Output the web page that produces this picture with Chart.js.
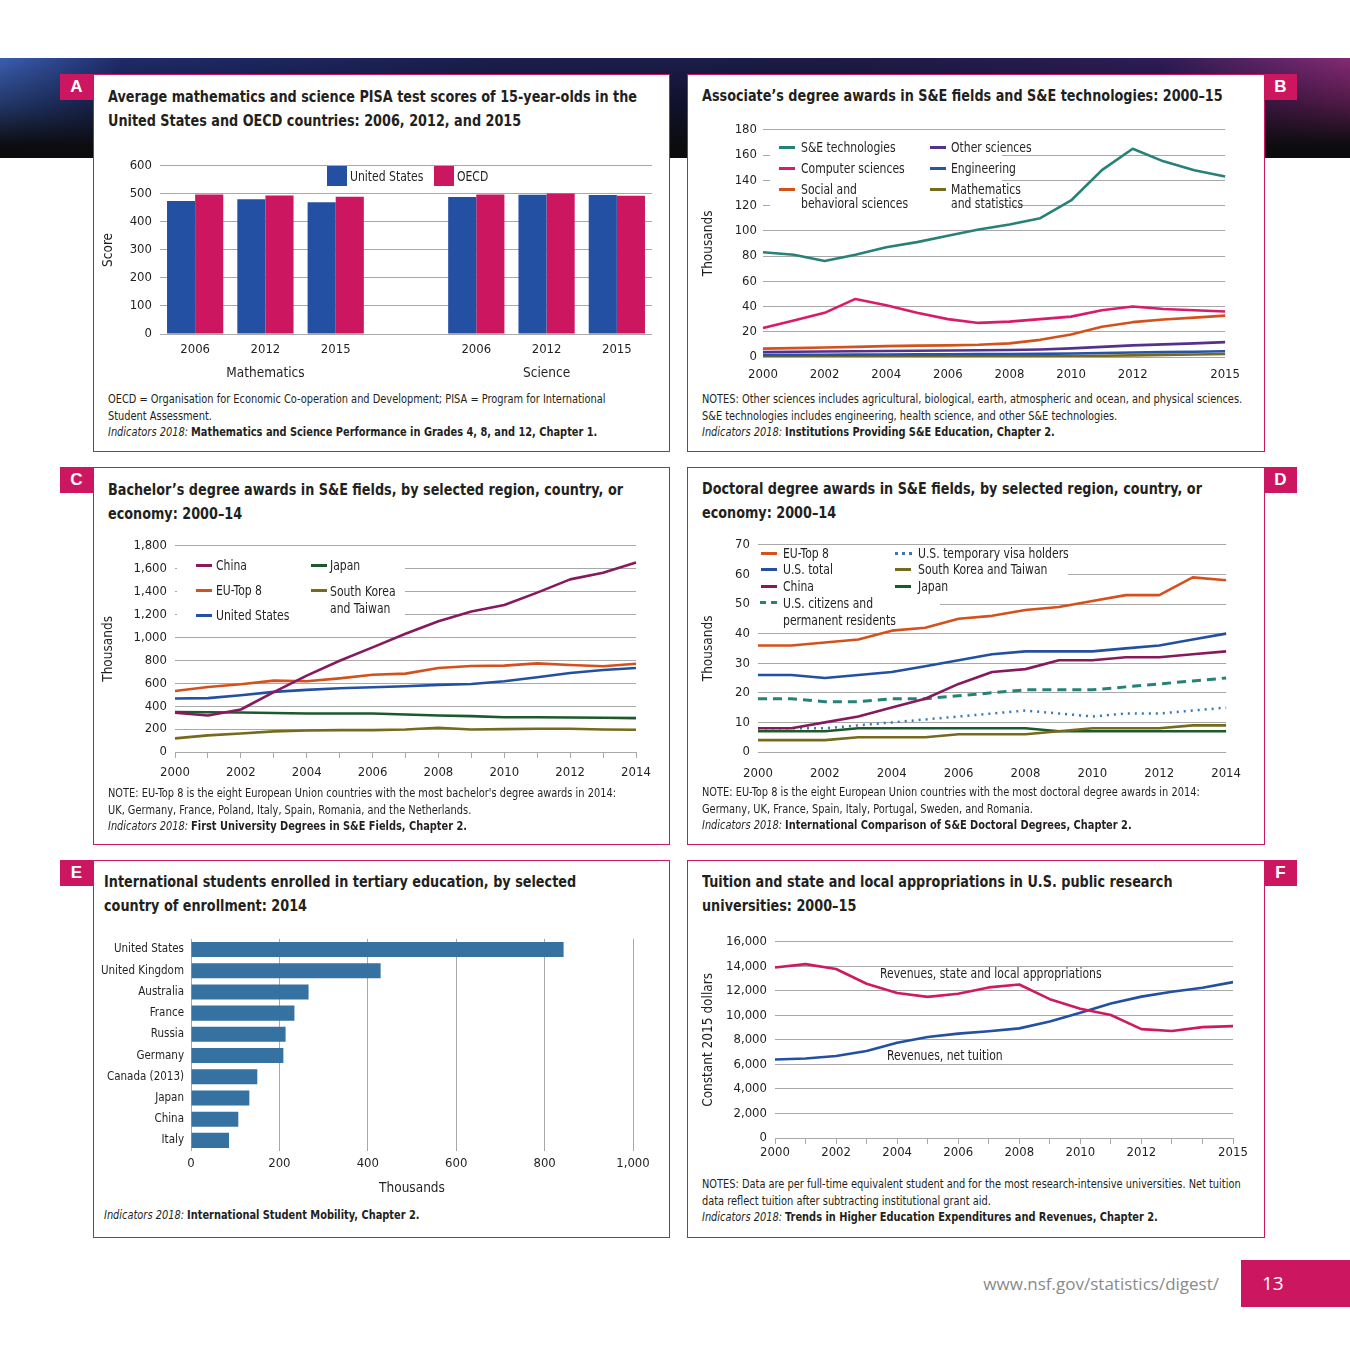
<!DOCTYPE html>
<html>
<head>
<meta charset="utf-8">
<title>Science and Engineering Indicators digest - page 13</title>
<script src="https://cdn.jsdelivr.net/npm/chart.js@4.4.1/dist/chart.umd.min.js"></script>
<style>
  html, body { margin: 0; padding: 0; background: #fff; }
  #page {
    position: relative; width: 1350px; height: 1350px; overflow: hidden;
    font-family: 'Liberation Sans Narrow', 'DejaVu Sans Condensed', sans-serif;
    color: #231f20;
  }
  .band {
    position: absolute; left: 0; top: 58px; width: 1350px; height: 100px;
    background:
      linear-gradient(180deg, rgba(0,0,0,0) 0%, rgba(0,0,0,0.4) 45%, #0c0c0f 88%),
      linear-gradient(90deg, #3a5eb0 0%, #1f2b6a 9%, #1b1f50 35%, #1c1b47 62%, #2e1c57 86%, #852a74 100%);
  }
  .panel { position: absolute; background: #fff; border: 1px solid #cc1760; box-sizing: border-box; }
  .tab {
    position: absolute; width: 33px; height: 26px; background: #cc1760; color: #fff;
    font: bold 17px 'Liberation Sans', Arial, sans-serif; text-align: center; line-height: 26px;
  }
  .title { position: absolute; font-weight: bold; font-size: 16px; line-height: 24px; white-space: nowrap;
    transform: scaleX(0.89); transform-origin: 0 0; }
  .note { position: absolute; font-size: 12px; line-height: 16.5px; white-space: nowrap;
    transform: scaleX(0.91); transform-origin: 0 0; }
  .note b { font-weight: bold; }
  canvas { position: absolute; }
  .lg { position: absolute; font-size: 14px; line-height: 14px; white-space: nowrap;
    transform: scaleX(0.86); transform-origin: 0 0; }
  .sw { position: absolute; width: 16px; height: 3px; }
  .swd { position: absolute; width: 17px; height: 0; }
  .sq { position: absolute; width: 20px; height: 20px; }
  .ann { position: absolute; font-size: 14px; line-height: 14px; white-space: nowrap;
    transform: scaleX(0.86); transform-origin: 0 0; }
  .url { position: absolute; right: 131px; top: 1272px; font: 17px 'Open Sans', sans-serif; color: #8a8a8a; }
  .pageno { position: absolute; left: 1241px; top: 1260px; width: 109px; height: 47px; background: #cc1760;
    color: #fff; font: 19px 'Open Sans', sans-serif; line-height: 47px; text-indent: 21px; }
</style>
</head>
<body>
<div id="page">
  <div class="band"></div>

  <!-- panel frames -->
  <div class="panel" style="left:93px;top:74px;width:577px;height:378px"></div>
  <div class="panel" style="left:687px;top:74px;width:578px;height:378px"></div>
  <div class="panel" style="left:93px;top:467px;width:577px;height:378px"></div>
  <div class="panel" style="left:687px;top:467px;width:578px;height:378px"></div>
  <div class="panel" style="left:93px;top:860px;width:577px;height:378px"></div>
  <div class="panel" style="left:687px;top:860px;width:578px;height:378px"></div>

  <div class="tab" style="left:60px;top:74px">A</div>
  <div class="tab" style="left:1264px;top:74px">B</div>
  <div class="tab" style="left:60px;top:467px">C</div>
  <div class="tab" style="left:1264px;top:467px">D</div>
  <div class="tab" style="left:60px;top:860px">E</div>
  <div class="tab" style="left:1264px;top:860px">F</div>

  <!-- titles -->
  <div class="title" style="left:108px;top:85px">Average mathematics and science PISA test scores of 15-year-olds in the<br>United States and OECD countries: 2006, 2012, and 2015</div>
  <div class="title" style="left:702px;top:84px">Associate’s degree awards in S&amp;E fields and S&amp;E technologies: 2000–15</div>
  <div class="title" style="left:108px;top:478px">Bachelor’s degree awards in S&amp;E fields, by selected region, country, or<br>economy: 2000–14</div>
  <div class="title" style="left:702px;top:477px">Doctoral degree awards in S&amp;E fields, by selected region, country, or<br>economy: 2000–14</div>
  <div class="title" style="left:104px;top:870px">International students enrolled in tertiary education, by selected<br>country of enrollment: 2014</div>
  <div class="title" style="left:702px;top:870px">Tuition and state and local appropriations in U.S. public research<br>universities: 2000–15</div>

  <!-- charts -->
  <canvas id="chartA" width="560" height="240" style="left:100px;top:150px"></canvas>
  <canvas id="chartB" width="550" height="271" style="left:700px;top:116px"></canvas>
  <canvas id="chartC" width="560" height="257" style="left:100px;top:530px"></canvas>
  <canvas id="chartD" width="555" height="257" style="left:700px;top:529px"></canvas>
  <canvas id="chartE" width="570" height="272" style="left:90px;top:925px"></canvas>
  <canvas id="chartF" width="555" height="240" style="left:700px;top:926px"></canvas>

  <!-- legend A -->
  <div class="sq" style="left:327px;top:166px;background:#2350a3"></div>
  <div class="lg" style="left:350px;top:169px">United States</div>
  <div class="sq" style="left:434px;top:166px;background:#cc1760"></div>
  <div class="lg" style="left:457px;top:169px">OECD</div>

  <!-- legend B -->
  <div class="sw" style="left:779px;top:146px;background:#268277"></div>
  <div class="lg" style="left:801px;top:140px">S&amp;E technologies</div>
  <div class="sw" style="left:779px;top:167px;background:#d81b6a"></div>
  <div class="lg" style="left:801px;top:161px">Computer sciences</div>
  <div class="sw" style="left:779px;top:188px;background:#d4511c"></div>
  <div class="lg" style="left:801px;top:182px">Social and<br>behavioral sciences</div>
  <div class="sw" style="left:930px;top:146px;background:#55308f"></div>
  <div class="lg" style="left:951px;top:140px">Other sciences</div>
  <div class="sw" style="left:930px;top:167px;background:#2654a8"></div>
  <div class="lg" style="left:951px;top:161px">Engineering</div>
  <div class="sw" style="left:930px;top:188px;background:#786a1c"></div>
  <div class="lg" style="left:951px;top:182px">Mathematics<br>and statistics</div>

  <!-- legend C -->
  <div class="sw" style="left:196px;top:564px;background:#861a5c"></div>
  <div class="lg" style="left:216px;top:558px">China</div>
  <div class="sw" style="left:196px;top:589px;background:#d4511c"></div>
  <div class="lg" style="left:216px;top:583px">EU-Top 8</div>
  <div class="sw" style="left:196px;top:614px;background:#2350a3"></div>
  <div class="lg" style="left:216px;top:608px">United States</div>
  <div class="sw" style="left:311px;top:564px;background:#1d5a2b"></div>
  <div class="lg" style="left:330px;top:558px">Japan</div>
  <div class="sw" style="left:311px;top:589px;background:#786a1c"></div>
  <div class="lg" style="left:330px;top:583px;line-height:17px">South Korea<br>and Taiwan</div>

  <!-- legend D -->
  <div class="sw" style="left:761px;top:552px;background:#d4511c"></div>
  <div class="lg" style="left:783px;top:546px">EU-Top 8</div>
  <div class="sw" style="left:761px;top:568px;background:#2350a3"></div>
  <div class="lg" style="left:783px;top:562px">U.S. total</div>
  <div class="sw" style="left:761px;top:585px;background:#861a5c"></div>
  <div class="lg" style="left:783px;top:579px">China</div>
  <div class="swd" style="left:760px;top:601px;border-top:3px dashed #268277"></div>
  <div class="lg" style="left:783px;top:595px;line-height:17px">U.S. citizens and<br>permanent residents</div>
  <div class="swd" style="left:895px;top:552px;border-top:3px dotted #3a78b5"></div>
  <div class="lg" style="left:918px;top:546px">U.S. temporary visa holders</div>
  <div class="sw" style="left:895px;top:568px;background:#786a1c"></div>
  <div class="lg" style="left:918px;top:562px">South Korea and Taiwan</div>
  <div class="sw" style="left:895px;top:585px;background:#1d5a2b"></div>
  <div class="lg" style="left:918px;top:579px">Japan</div>

  <!-- annotations F -->
  <div class="ann" style="left:880px;top:966px">Revenues, state and local appropriations</div>
  <div class="ann" style="left:887px;top:1048px">Revenues, net tuition</div>

  <!-- notes -->
  <div class="note" style="left:108px;top:391px">OECD = Organisation for Economic Co-operation and Development; PISA = Program for International<br>Student Assessment.<br><i>Indicators 2018:</i> <b>Mathematics and Science Performance in Grades 4, 8, and 12, Chapter 1.</b></div>
  <div class="note" style="left:702px;top:391px">NOTES: Other sciences includes agricultural, biological, earth, atmospheric and ocean, and physical sciences.<br>S&amp;E technologies includes engineering, health science, and other S&amp;E technologies.<br><i>Indicators 2018:</i> <b>Institutions Providing S&amp;E Education, Chapter 2.</b></div>
  <div class="note" style="left:108px;top:785px">NOTE: EU-Top 8 is the eight European Union countries with the most bachelor's degree awards in 2014:<br>UK, Germany, France, Poland, Italy, Spain, Romania, and the Netherlands.<br><i>Indicators 2018:</i> <b>First University Degrees in S&amp;E Fields, Chapter 2.</b></div>
  <div class="note" style="left:702px;top:784px">NOTE: EU-Top 8 is the eight European Union countries with the most doctoral degree awards in 2014:<br>Germany, UK, France, Spain, Italy, Portugal, Sweden, and Romania.<br><i>Indicators 2018:</i> <b>International Comparison of S&amp;E Doctoral Degrees, Chapter 2.</b></div>
  <div class="note" style="left:104px;top:1207px"><i>Indicators 2018:</i> <b>International Student Mobility, Chapter 2.</b></div>
  <div class="note" style="left:702px;top:1176px">NOTES: Data are per full-time equivalent student and for the most research-intensive universities. Net tuition<br>data reflect tuition after subtracting institutional grant aid.<br><i>Indicators 2018:</i> <b>Trends in Higher Education Expenditures and Revenues, Chapter 2.</b></div>

  <div class="url">www.nsf.gov/statistics/digest/</div>
  <div class="pageno">13</div>
</div>

<script>
// ---- A: PISA scores
var pisaLabels = ['2006', '2012', '2015', '', '2006', '2012', '2015'];
var pisaGroups = ['Mathematics', 'Science'];
var pisaGroupAt = [1, 5];
var pisaUS = [474, 481, 470, null, 489, 497, 496];
var pisaOECD = [498, 494, 490, null, 498, 501, 493];

// ---- B: associate's degrees (thousands)
var assocYears = ['2000','2001','2002','2003','2004','2005','2006','2007','2008','2009','2010','2011','2012','2013','2014','2015'];
var assocTickYears = ['2000','2002','2004','2006','2008','2010','2012','2015'];
var assocTech = [83, 81, 76, 81, 87, 91, 96, 101, 105, 110, 124, 148, 165, 155, 148, 143];
var assocCS = [23, 29, 35, 46, 41, 35, 30, 27, 28, 30, 32, 37, 40, 38, 37, 36];
var assocSocial = [6.6, 7, 7.5, 8, 8.6, 9, 9.2, 9.7, 10.8, 13.6, 17.8, 24, 27.6, 29.7, 31.2, 32.8];
var assocOther = [3.9, 4.1, 4.3, 4.5, 4.7, 4.9, 5.1, 5.3, 5.5, 6, 6.8, 8, 9.2, 10, 10.8, 11.8];
var assocEng = [1.6, 1.7, 1.8, 1.9, 2, 2.1, 2.2, 2.3, 2.4, 2.5, 2.8, 3.2, 3.6, 3.9, 4.2, 4.6];
var assocMath = [0.4, 0.4, 0.4, 0.4, 0.5, 0.5, 0.5, 0.5, 0.5, 0.6, 0.8, 1, 1.3, 1.7, 2, 2.4];

// ---- C: bachelor's degrees (thousands)
var bachYears = ['2000','2001','2002','2003','2004','2005','2006','2007','2008','2009','2010','2011','2012','2013','2014'];
var bachChina = [342, 319, 371, 522, 667, 797, 913, 1032, 1142, 1226, 1284, 1391, 1507, 1565, 1655];
var bachEU = [533, 568, 591, 623, 617, 643, 675, 684, 733, 751, 754, 774, 759, 748, 771];
var bachUS = [467, 470, 496, 525, 542, 557, 565, 574, 586, 594, 617, 652, 690, 716, 733];
var bachJapan = [348, 347, 345, 340, 336, 336, 336, 328, 319, 313, 304, 304, 301, 299, 296];
var bachKorTw = [119, 145, 162, 180, 188, 191, 191, 197, 212, 197, 200, 203, 203, 197, 194];

// ---- D: doctoral degrees (thousands)
var docYears = ['2000','2001','2002','2003','2004','2005','2006','2007','2008','2009','2010','2011','2012','2013','2014'];
var docEU = [36, 36, 37, 38, 41, 42, 45, 46, 48, 49, 51, 53, 53, 59, 58];
var docUSTotal = [26, 26, 25, 26, 27, 29, 31, 33, 34, 34, 34, 35, 36, 38, 40];
var docChina = [8, 8, 10, 12, 15, 18, 23, 27, 28, 31, 31, 32, 32, 33, 34];
var docCitizens = [18, 18, 17, 17, 18, 18, 19, 20, 21, 21, 21, 22, 23, 24, 25];
var docTempVisa = [8, 8, 8, 9, 10, 11, 12, 13, 14, 13, 12, 13, 13, 14, 15];
var docKorTw = [4, 4, 4, 5, 5, 5, 6, 6, 6, 7, 8, 8, 8, 9, 9];
var docJapan = [7, 7, 7, 8, 8, 8, 8, 8, 8, 7, 7, 7, 7, 7, 7];

// ---- E: international students (thousands)
var intlCountries = ['United States', 'United Kingdom', 'Australia', 'France', 'Russia', 'Germany', 'Canada (2013)', 'Japan', 'China', 'Italy'];
var intlStudents = [843, 429, 266, 234, 214, 209, 150, 132, 107, 86];

// ---- F: public research universities (constant 2015 dollars)
var fundYears = ['2000','2001','2002','2003','2004','2005','2006','2007','2008','2009','2010','2011','2012','2013','2014','2015'];
var fundTickYears = ['2000','2002','2004','2006','2008','2010','2012','2015'];
var fundState = [13900, 14180, 13780, 12580, 11830, 11510, 11770, 12280, 12520, 11320, 10540, 10030, 8880, 8720, 9040, 9120];
var fundTuition = [6400, 6480, 6690, 7090, 7760, 8240, 8510, 8700, 8940, 9500, 10220, 10970, 11530, 11930, 12250, 12710];

var FONT = "'Liberation Sans Narrow', 'DejaVu Sans Condensed', sans-serif";
var GRID = '#a8a8a8';
Chart.defaults.font.family = FONT;
Chart.defaults.font.size = 13;
Chart.defaults.color = '#231f20';
Chart.defaults.animation = false;
Chart.defaults.responsive = false;
Chart.defaults.plugins.legend.display = false;
Chart.defaults.plugins.tooltip.enabled = false;
Chart.defaults.elements.point.radius = 0;
Chart.defaults.elements.line.borderWidth = 2.6;
Chart.defaults.elements.line.borderJoinStyle = 'round';

function comma(v) { return Number(v).toLocaleString('en-US'); }

// white patches behind the legends: hide gridlines, keep the data lines on top
var legendMask = {
  id: 'legendMask',
  beforeDatasetsDraw: function (chart, args, opts) {
    var ctx = chart.ctx;
    ctx.save();
    ctx.fillStyle = '#fff';
    (opts.rects || []).forEach(function (r) { ctx.fillRect(r[0], r[1], r[2], r[3]); });
    ctx.restore();
  }
};

function yScale(min, max, step, width, title, pad, fmt) {
  return {
    min: min, max: max,
    ticks: { stepSize: step, padding: pad, callback: fmt || function (v) { return v; } },
    grid: { color: GRID, lineWidth: 1, drawTicks: false },
    border: { display: false },
    title: { display: !!title, text: title, font: { size: 13.5 }, padding: { top: 0, bottom: 0 } },
    afterFit: function (s) { s.width = width; }
  };
}

function xYears(labels, show, height, pad, ticks) {
  return {
    ticks: {
      autoSkip: false, maxRotation: 0, padding: pad,
      callback: function (v, i) { return show.indexOf(labels[i]) >= 0 ? labels[i] : ''; }
    },
    grid: { display: ticks, drawOnChartArea: false, drawTicks: ticks, tickLength: 6, color: GRID },
    border: { display: false },
    afterFit: function (s) { s.height = height; }
  };
}

function line(label, data, color, extra) {
  var d = { label: label, data: data, borderColor: color, backgroundColor: color, fill: false, tension: 0 };
  for (var k in extra) d[k] = extra[k];
  return d;
}

function evenYears(labels) {
  return labels.filter(function (y) { return Number(y) % 2 === 0; });
}

// A
var groupLabels = {
  id: 'groupLabels',
  afterDraw: function (chart) {
    var ctx = chart.ctx, x = chart.scales.x;
    ctx.save();
    ctx.font = '13.5px ' + FONT;
    ctx.fillStyle = '#231f20';
    ctx.textAlign = 'center';
    ctx.textBaseline = 'middle';
    pisaGroups.forEach(function (g, i) {
      ctx.fillText(g, x.getPixelForValue(pisaGroupAt[i]), chart.chartArea.bottom + 39);
    });
    ctx.restore();
  }
};

new Chart(document.getElementById('chartA'), {
  type: 'bar',
  data: {
    labels: pisaLabels,
    datasets: [
      { label: 'United States', data: pisaUS, backgroundColor: '#2350a3' },
      { label: 'OECD', data: pisaOECD, backgroundColor: '#cc1760' }
    ]
  },
  options: {
    layout: { padding: { top: 12, right: 8, left: 0, bottom: 0 } },
    datasets: { bar: { categoryPercentage: 0.8, barPercentage: 1.0 } },
    scales: {
      x: {
        ticks: { padding: 8, autoSkip: false, maxRotation: 0 },
        grid: { display: false, drawTicks: false }, border: { display: false },
        afterFit: function (s) { s.height = 56; }
      },
      y: yScale(0, 600, 100, 60, 'Score', 8)
    }
  },
  plugins: [groupLabels]
});

// B
new Chart(document.getElementById('chartB'), {
  type: 'line',
  data: {
    labels: assocYears,
    datasets: [
      line('S&E technologies', assocTech, '#268277'),
      line('Computer sciences', assocCS, '#d81b6a'),
      line('Social and behavioral sciences', assocSocial, '#d4511c'),
      line('Other sciences', assocOther, '#55308f'),
      line('Engineering', assocEng, '#2654a8'),
      line('Mathematics and statistics', assocMath, '#786a1c')
    ]
  },
  options: {
    layout: { padding: { top: 12, right: 22, left: 0, bottom: 0 } },
    plugins: { legendMask: { rects: [[70, 21, 232, 77]] } },
    scales: {
      x: xYears(assocYears, assocTickYears, 30, 10, false),
      y: yScale(0, 180, 20, 63, 'Thousands', 6)
    }
  },
  plugins: [legendMask]
});

// C
new Chart(document.getElementById('chartC'), {
  type: 'line',
  data: {
    labels: bachYears,
    datasets: [
      line('China', bachChina, '#861a5c'),
      line('EU-Top 8', bachEU, '#d4511c'),
      line('United States', bachUS, '#2350a3'),
      line('Japan', bachJapan, '#1d5a2b'),
      line('South Korea and Taiwan', bachKorTw, '#786a1c')
    ]
  },
  options: {
    layout: { padding: { top: 12, right: 24, left: 0, bottom: 0 } },
    plugins: { legendMask: { rects: [[77, 23, 228, 72]] } },
    scales: {
      x: xYears(bachYears, evenYears(bachYears), 35, 7, true),
      y: yScale(0, 1800, 200, 75, 'Thousands', 8, comma)
    }
  },
  plugins: [legendMask]
});

// D
new Chart(document.getElementById('chartD'), {
  type: 'line',
  data: {
    labels: docYears,
    datasets: [
      line('EU-Top 8', docEU, '#d4511c'),
      line('U.S. total', docUSTotal, '#2350a3'),
      line('China', docChina, '#861a5c'),
      line('U.S. citizens and permanent residents', docCitizens, '#268277', { borderDash: [9, 6], borderWidth: 3 }),
      line('U.S. temporary visa holders', docTempVisa, '#3a78b5', { borderDash: [2, 5], borderWidth: 2.5 }),
      line('South Korea and Taiwan', docKorTw, '#786a1c'),
      line('Japan', docJapan, '#1d5a2b')
    ]
  },
  options: {
    layout: { padding: { top: 12, right: 24, left: 0, bottom: 0 } },
    plugins: { legendMask: { rects: [[58, 16, 310, 49], [58, 65, 182, 34]] } },
    scales: {
      x: xYears(docYears, evenYears(docYears), 34, 14, false),
      y: yScale(0, 70, 10, 58, 'Thousands', 8)
    }
  },
  plugins: [legendMask]
});

// E
new Chart(document.getElementById('chartE'), {
  type: 'bar',
  data: {
    labels: intlCountries,
    datasets: [{ label: 'International students', data: intlStudents, backgroundColor: '#3572a1' }]
  },
  options: {
    indexAxis: 'y',
    layout: { padding: { top: 12, right: 27, left: 0, bottom: 0 } },
    datasets: { bar: { categoryPercentage: 0.71, barPercentage: 1.0 } },
    scales: {
      x: {
        min: 0, max: 1000,
        ticks: { stepSize: 200, padding: 5, callback: comma },
        grid: { color: GRID, drawTicks: false },
        border: { display: false },
        title: { display: true, text: 'Thousands', font: { size: 13.5 }, padding: { top: 0, bottom: 0 } },
        afterFit: function (s) { s.height = 46; }
      },
      y: {
        ticks: { padding: 7, font: { size: 11.5 } },
        grid: { display: false, drawTicks: false },
        border: { display: false },
        afterFit: function (s) { s.width = 101; }
      }
    }
  }
});

// F
new Chart(document.getElementById('chartF'), {
  type: 'line',
  data: {
    labels: fundYears,
    datasets: [
      line('Revenues, state and local appropriations', fundState, '#cf1a62'),
      line('Revenues, net tuition', fundTuition, '#2350a3')
    ]
  },
  options: {
    layout: { padding: { top: 12, right: 22, left: 0, bottom: 0 } },
    scales: {
      x: xYears(fundYears, fundTickYears, 28, 1, true),
      y: yScale(0, 16000, 2000, 75, 'Constant 2015 dollars', 8, comma)
    }
  }
});
</script>
</body>
</html>
